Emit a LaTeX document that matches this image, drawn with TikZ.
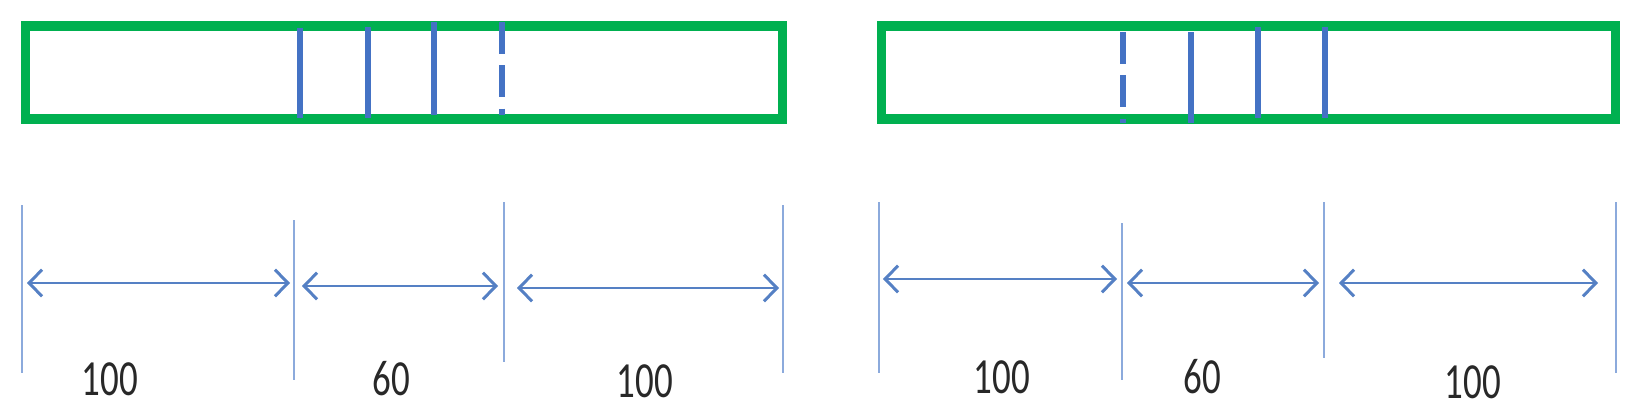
\documentclass[tikz,border=0pt]{standalone}
\usepackage{fontspec}
\setmainfont{Carlito}
\usetikzlibrary{arrows.meta}
\definecolor{boxgreen}{RGB}{0,176,80}
\definecolor{cutblue}{RGB}{68,114,196}
\definecolor{dimline}{RGB}{140,170,220}
\definecolor{dimarrow}{RGB}{85,128,196}
\definecolor{numcol}{RGB}{40,40,40}
\tikzset{
  barbox/.style={draw=boxgreen,line width=2.6pt},
  cutline/.style={draw=cutblue,line width=1.45pt},
  cutdash/.style={cutline,dash pattern=on 9.1pt off 3.2pt},
  extline/.style={draw=dimline,line width=0.6pt},
  dimarr/.style={draw=dimarrow,line width=0.85pt,
    {Straight Barb[length=3.7pt,width=7.6pt]}-{Straight Barb[length=3.7pt,width=7.6pt]}},
  numlabel/.style={inner sep=0pt,text=numcol,font=\fontsize{10.5pt}{12pt}\selectfont}
}
\newcommand{\tallnum}[1]{\scalebox{1}[1.37]{#1}}
\begin{document}
\begin{tikzpicture}[x=0.01cm,y=-0.01cm]
\useasboundingbox (0,0) rectangle (1641,415);
% ---------- left bar ----------
\draw[barbox] (25.5,26) rectangle (782.5,119);
\draw[cutline] (300,28) -- (300,118);
\draw[cutline] (368,27) -- (368,118);
\draw[cutline] (434,22) -- (434,115);
\draw[cutdash] (502,22) -- (502,115);
% ---------- right bar ----------
\draw[barbox] (881.5,26) rectangle (1615.5,119);
\draw[cutdash] (1123,32) -- (1123,123);
\draw[cutline] (1191,32) -- (1191,123);
\draw[cutline] (1258,27) -- (1258,118);
\draw[cutline] (1325,27) -- (1325,118);
% ---------- left dimensions ----------
\draw[extline] (22,205) -- (22,373);
\draw[extline] (294,220) -- (294,380);
\draw[extline] (504,202) -- (504,362);
\draw[extline] (783,205) -- (783,373);
\draw[dimarr] (27,283) -- (290,283);
\draw[dimarr] (302,286) -- (498,286);
\draw[dimarr] (517,288) -- (779,288);
\node[numlabel] (l1) at (110,379) {\tallnum{100}};
\node[numlabel] (l2) at (391,379) {\tallnum{60}};
\node[numlabel] (l3) at (645,381) {\tallnum{100}};
% ---------- right dimensions ----------
\draw[extline] (879,202) -- (879,373);
\draw[extline] (1122,223) -- (1122,380);
\draw[extline] (1324,202) -- (1324,358);
\draw[extline] (1616,202) -- (1616,373);
\draw[dimarr] (883,279) -- (1117,279);
\draw[dimarr] (1127,283) -- (1319,283);
\draw[dimarr] (1339,283) -- (1598,283);
\node[numlabel] (r1) at (1002,377) {\tallnum{100}};
\node[numlabel] (r2) at (1202,377) {\tallnum{60}};
\node[numlabel] (r3) at (1473,382) {\tallnum{100}};
\end{tikzpicture}
\end{document}
